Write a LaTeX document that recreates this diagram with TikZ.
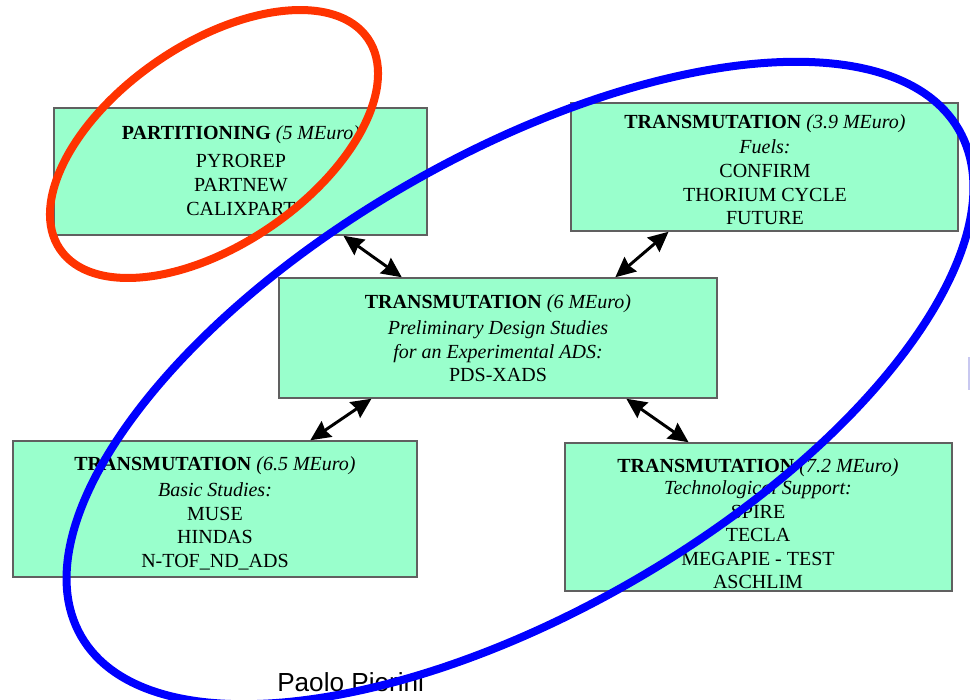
\documentclass[tikz,border=0pt]{standalone}
\usepackage{fontspec}
\setmainfont{Liberation Serif}
\newfontfamily\authorfont{Liberation Sans}
\usetikzlibrary{fit,calc,arrows.meta}
\definecolor{mint}{HTML}{99FFCC}
\definecolor{boxline}{HTML}{606060}
\definecolor{redring}{HTML}{FF3300}
\definecolor{bluering}{HTML}{0000FF}
\definecolor{faint}{HTML}{C8C8F0}
\tikzset{
  box/.style={draw=boxline, fill=mint, line width=1.1pt, inner sep=0pt, rectangle},
  txt/.style={font=\fontsize{15}{17.8}\selectfont, align=center, inner sep=0pt},
  dbl/.style={line width=2.2pt, {Stealth[length=15pt,width=14pt,inset=1.5pt]}-{Stealth[length=15pt,width=14pt,inset=1.5pt]}},
  ring/.style={line width=6pt}
}
\begin{document}
\begin{tikzpicture}[x=0.75pt,y=-0.75pt]
\useasboundingbox (0,0) rectangle (970,699);
% boxes
\node[box, fit={(54,108) (427,235)}] (part) {};
\node[box, fit={(571,103) (958,231)}] (fuels) {};
\node[box, fit={(279,278) (717,398)}] (pds) {};
\node[box, fit={(13,441) (417,577)}] (basic) {};
\node[box, fit={(565,443) (952,591)}] (tech) {};
% texts
\node[txt] (partt) at (241,170.5) {\textbf{PARTITIONING} \textit{(5 MEuro)}\\[3.5pt] PYROREP\\ PARTNEW\\ CALIXPART};
\node[txt] (fuelst) at (765,170) {\textbf{TRANSMUTATION} \textit{(3.9 MEuro)}\\[0.8pt] \textit{Fuels:}\\ CONFIRM\\ THORIUM CYCLE\\ FUTURE};
\node[txt] (pdst) at (498,338.5) {\textbf{TRANSMUTATION} \textit{(6 MEuro)}\\[1.5pt] \textit{Preliminary Design Studies}\\ \textit{for an Experimental ADS:}\\ PDS-XADS};
\node[txt] (basict) at (215,513.5) {\textbf{TRANSMUTATION} \textit{(6.5 MEuro)}\\[1.5pt] \textit{Basic Studies:}\\ MUSE\\ HINDAS\\ N-TOF\_ND\_ADS};
\node[txt, font=\fontsize{15}{17.6}\selectfont] (techt) at (758,524) {\textbf{TRANSMUTATION} \textit{(7.2 MEuro)}\\[-1pt] \textit{Technological Support:}\\ SPIRE\\ TECLA\\ MEGAPIE - TEST\\ ASCHLIM};
% connectors
\draw[dbl] ($(part.south west)!0.775!(part.south east)$) -- ($(pds.north west)!0.281!(pds.north east)$);
\draw[dbl] ($(fuels.south west)!0.253!(fuels.south east)$) -- ($(pds.north west)!0.767!(pds.north east)$);
\draw[dbl] ($(pds.south west)!0.212!(pds.south east)$) -- ($(basic.north west)!0.735!(basic.north east)$);
\draw[dbl] ($(pds.south west)!0.792!(pds.south east)$) -- ($(tech.north west)!0.320!(tech.north east)$);
% author
\node[font=\authorfont\fontsize{19.6}{23}\selectfont, anchor=base west, inner sep=0pt] (author) at (277,691) {Paolo Pierini};
% faint mark at right edge
\draw[faint, line width=1.1pt] (969,357) -- (969,390);
% rings
\draw[ring, redring, rotate around={34.4:(214,144)}] (214,144) ellipse [x radius=139.9pt, y radius=75.2pt];
\draw[ring, bluering, rotate around={30:(520,383)}] (520,383) ellipse [x radius=380pt, y radius=171pt];
\end{tikzpicture}
\end{document}
